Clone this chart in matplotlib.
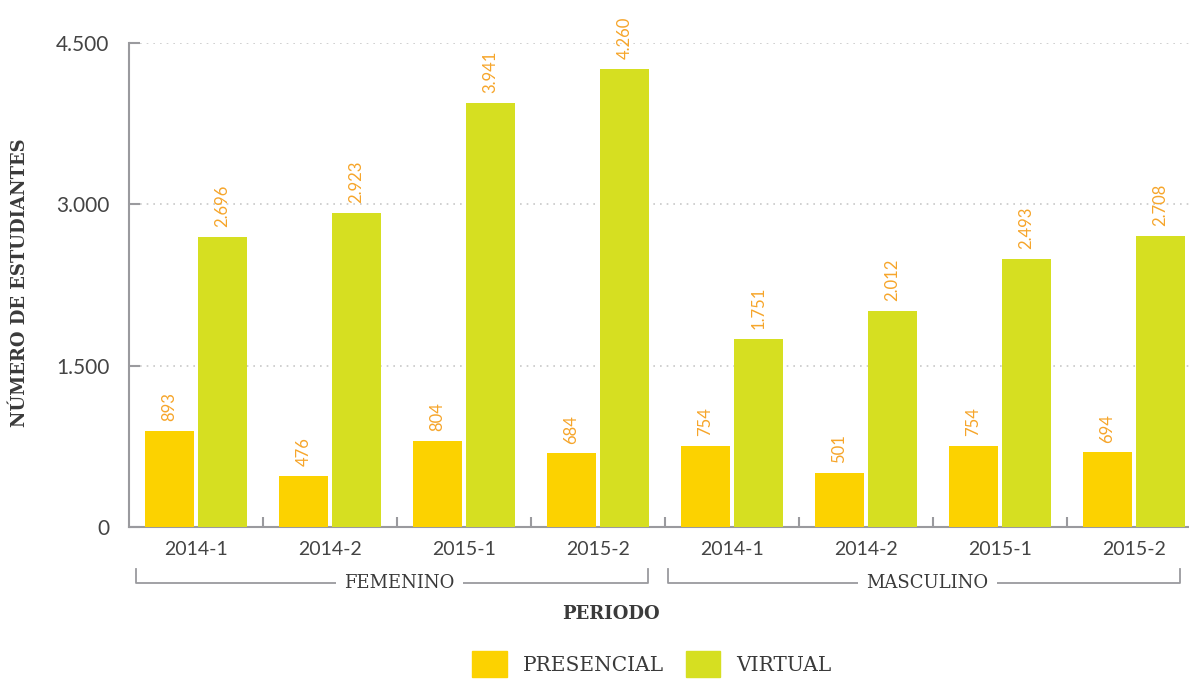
import numpy as np
import matplotlib.pyplot as plt
import matplotlib.transforms as mtransforms
from matplotlib.patches import Patch

# periods, repeated for both genders
periodos = ['2014-1', '2014-2', '2015-1', '2015-2', '2014-1', '2014-2', '2015-1', '2015-2']
generos = ['FEMENINO', 'MASCULINO']
presencial = [893, 476, 804, 684, 754, 501, 754, 694]
virtual = [2696, 2923, 3941, 4260, 1751, 2012, 2493, 2708]
yticks = [0, 1500, 3000, 4500]

c_pres = '#FCD200'
c_virt = '#D6DF21'
c_lab = '#F6A52A'
c_axis = '#9A9A9E'
c_text = '#3A3A3A'

serif = ['DejaVu Serif']
sans = ['Lato', 'DejaVu Sans']

fig = plt.figure(figsize=(11.89, 6.79), dpi=100)
ax = fig.add_axes([129 / 1189, 152 / 679, 1060 / 1189, 484 / 679])

x = np.arange(len(periodos))
off = 0.198
w = 0.366
b1 = ax.bar(x - off, presencial, w, color=c_pres, zorder=3)
b2 = ax.bar(x + off, virtual, w, color=c_virt, zorder=3)

# value labels above each bar, rotated
for bars, vals in ((b1, presencial), (b2, virtual)):
    for r, v in zip(bars, vals):
        txt = f'{v:,}'.replace(',', '.')
        ax.annotate(txt, (r.get_x() + r.get_width() / 2, v), xytext=(0, 7),
                    textcoords='offset points', rotation=90, ha='center', va='bottom',
                    color=c_lab, fontsize=12, family=sans, clip_on=False)

ax.set_xlim(-0.5, 7.41)
ax.set_ylim(0, 4500)

for s in ['top', 'right']:
    ax.spines[s].set_visible(False)
for s in ['left', 'bottom']:
    ax.spines[s].set_color(c_axis)
    ax.spines[s].set_linewidth(1.5)

ax.set_yticks(yticks)
ax.set_yticklabels([f'{v:,}'.replace(',', '.') for v in yticks], family=sans,
                   fontsize=15, color='#444444')
ax.tick_params(axis='y', direction='in', length=8, width=1.5, color=c_axis, pad=14)
for v in yticks[1:]:
    ax.axhline(v, xmin=11 / 1060, color='#C8C8C8', linestyle=(0, (1, 3)), linewidth=1.2, zorder=1)

ax.set_xticks(x)
ax.set_xticklabels(periodos, family=sans, fontsize=14, color='#444444')
ax.tick_params(axis='x', length=0, pad=10)
ax.set_xticks(np.arange(0.5, 7, 1), minor=True)
ax.tick_params(axis='x', which='minor', direction='in', length=7, width=1.5, color=c_axis)

# gender brackets under the period labels
tr = mtransforms.blended_transform_factory(ax.transData, ax.transAxes)
ybr, ytop = -0.1157, -0.0868
for (x0, x1, xc), g in zip([(-0.45, 3.37, 1.52), (3.52, 7.34, 5.46)], generos):
    ax.plot([x0, x0, x1, x1], [ytop, ybr, ybr, ytop], transform=tr, color=c_axis,
            linewidth=1.3, clip_on=False)
    ax.text(xc, ybr, g, transform=tr, ha='center', va='center', family=serif,
            fontsize=13, color=c_text,
            bbox=dict(facecolor='white', edgecolor='none', pad=6))

ax.text(0.455, -0.18, 'PERIODO', transform=ax.transAxes, ha='center', va='center',
        family=serif, fontsize=13, fontweight='bold', color=c_text)
fig.text(20 / 1189, 1 - 283 / 679, 'NÚMERO DE ESTUDIANTES', rotation=90, ha='center',
         va='center', family=serif, fontsize=13, fontweight='bold', color=c_text)

handles = [Patch(color=c_pres), Patch(color=c_virt)]
fig.legend(handles, ['PRESENCIAL', 'VIRTUAL'], loc='center', ncol=2,
           bbox_to_anchor=(652 / 1189, 1 - 664 / 679), frameon=False,
           prop=dict(family=serif, size=14.5), labelcolor=c_text,
           handlelength=1.7, handleheight=1.6, handletextpad=0.8, columnspacing=1.1)

fig.savefig('out.png', dpi=100)
